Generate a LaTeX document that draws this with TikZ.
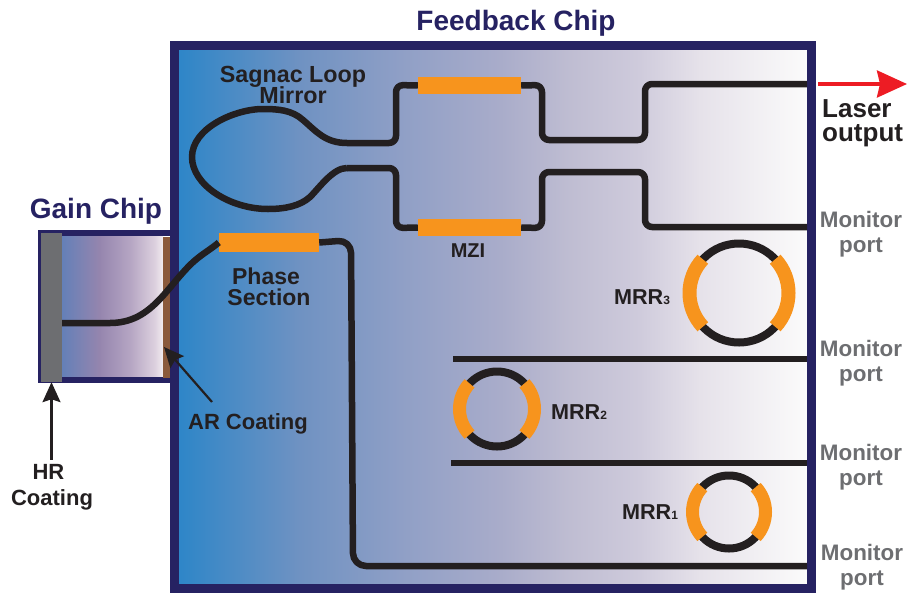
\documentclass[tikz,border=0pt]{standalone}
\usepackage{fontspec}
\setmainfont{Liberation Sans}
\usetikzlibrary{arrows.meta}
\definecolor{navy}{HTML}{262262}
\definecolor{ink}{HTML}{231F20}
\definecolor{greytxt}{HTML}{6D6E71}
\definecolor{amber}{HTML}{F7941D}
\definecolor{brownar}{HTML}{8B5A3C}
\definecolor{redout}{HTML}{ED1C24}
\definecolor{fba}{HTML}{2E86C8}
\definecolor{fbb}{HTML}{6F92C2}
\definecolor{fbc}{HTML}{8F9FC6}
\definecolor{fbd}{HTML}{A9ACCA}
\definecolor{fbe}{HTML}{BFBDD2}
\definecolor{fbf}{HTML}{CFCBDC}
\definecolor{fbg}{HTML}{E6E2EA}
\definecolor{fbh}{HTML}{FBFBFB}
\definecolor{gaa}{HTML}{6480B8}
\definecolor{gab}{HTML}{9585AE}
\definecolor{gac}{HTML}{B5A5C3}
\definecolor{gad}{HTML}{DCD0DE}
\definecolor{gae}{HTML}{F2ECF0}
\pgfdeclarehorizontalshading{fbshade}{100bp}{color(0bp)=(fba); color(25bp)=(fba); color(34.6bp)=(fbb); color(42.6bp)=(fbc); color(50.6bp)=(fbd); color(56.1bp)=(fbe); color(61.7bp)=(fbf); color(66.5bp)=(fbg); color(75bp)=(fbh); color(100bp)=(fbh)}
\pgfdeclarehorizontalshading{gainshade}{100bp}{color(0bp)=(gaa); color(33.6bp)=(gaa); color(49bp)=(gab); color(61.5bp)=(gac); color(71.6bp)=(gad); color(75bp)=(gae); color(100bp)=(gae)}
\tikzset{
	wg/.style={draw=ink, line width=6.5pt, rounded corners=7pt},
	heater/.style={fill=amber, inner sep=0pt, minimum height=#1},
	lbl/.style={text=ink, inner sep=0pt, align=center, font=\bfseries\fontsize{#1}{#1}\selectfont},
	title/.style={text=navy, inner sep=0pt, font=\bfseries\fontsize{28}{28}\selectfont},
	port/.style={text=greytxt, inner sep=0pt, align=center, font=\bfseries\fontsize{22.4}{25}\selectfont},
	callout/.style={draw=ink, line width=2.2pt, -{Stealth[length=20pt,width=18pt,inset=3pt]}}
}
\begin{document}
\begin{tikzpicture}[x=1pt, y=-1pt, line join=round]
	\useasboundingbox (0,0) rectangle (907,592);
	% gain chip
	\shade[shading=gainshade] (41,236) rectangle (163,378);
	\draw[navy, line width=5.5pt, line join=miter] (172,232.8)--(40.5,232.8)--(40.5,380.2)--(172,380.2);
	\node[fill=greytxt, inner sep=0pt, minimum width=21pt, minimum height=149pt] (hrcoat) at (51.5,307.5) {};
	\node[fill=brownar, inner sep=0pt, minimum width=7pt, minimum height=141pt] (arcoat) at (166.5,307.5) {};
	% feedback chip
	\shade[shading=fbshade] (179,50) rectangle (807,584);
	\draw[navy, line width=9.5pt, line join=miter] (174.5,45.5) rectangle (811.5,588.5);
	% heaters
	\node[heater=17pt, minimum width=103pt] (mzitop) at (469.5,85.5) {};
	\node[heater=17pt, minimum width=103pt] (mzibot) at (469.5,227.5) {};
	\node[heater=19pt, minimum width=100pt] (phase) at (269,242.5) {};
	\coordinate (gainin) at (hrcoat.east |- 0,323);
	\coordinate (loopa) at (347,143);
	\coordinate (loopb) at (347,168);
	\coordinate (outa) at (807,84);
	\coordinate (outb) at (807,227);
	\coordinate (outc) at (807,359);
	\coordinate (outd) at (807,463);
	\coordinate (oute) at (807,566);
	\coordinate (busc) at (453,359);
	\coordinate (busd) at (451,463);
	% waveguides
	\draw[wg, sharp corners] (loopa) .. controls (325,143) and (316,131) .. (303,120) .. controls (292,110) and (278,109) .. (263,109) .. controls (235,109) and (192,128) .. (192,157) .. controls (192,185) and (230,209) .. (268,209) .. controls (285,209) and (300,206) .. (310,197) .. controls (320,187) and (333,168) .. (loopb);
	\draw[wg] (loopa)--(396,143)--(396,85)--(mzitop.west);
	\draw[wg] (loopb)--(396,168)--(396,228)--(mzibot.west);
	\draw[wg] (mzitop.east)--(542,85)--(542,140)--(645,140)--(645,84)--(outa);
	\draw[wg] (mzibot.east)--(542,228)--(542,172)--(645,172)--(645,227)--(outb);
	\draw[wg, sharp corners] (gainin)--(110,323) .. controls (150,323) and (165,290) .. (190,265) .. controls (200,255) and (210,250) .. (phase.west);
	\draw[wg, rounded corners=13pt] (phase.east)--(351,240)--(353,566)--(oute);
	\draw[wg] (busc)--(outc);
	\draw[wg] (busd)--(outd);
	% ring resonators
	\foreach \cx/\cy/\rr/\wa/\wb in {739/293/49.5/8/14, 497/409/37.5/8/13, 729/512/36.5/8/13}{
		\draw[ink, line width=\wa pt] (\cx,\cy) circle[radius=\rr];
		\draw[amber, line width=\wb pt] (\cx,\cy)+(-43:\rr) arc[start angle=-43, end angle=43, radius=\rr];
		\draw[amber, line width=\wb pt] (\cx,\cy)+(137:\rr) arc[start angle=137, end angle=223, radius=\rr];
	}
	% labels
	\node[title] (fbtitle) at (516,23) {Feedback Chip};
	\node[title] (gaintitle) at (96,211) {Gain Chip};
	\node[lbl=23.3] (sagnac) at (293,85) {Sagnac Loop\\[-2pt]Mirror};
	\node[lbl=23] (phaselbl) at (269,287) {Phase\kern6pt\\[-2pt]Section};
	\node[lbl=20] (mzilbl) at (468,251) {MZI};
	\node[lbl=22] (arlbl) at (248,423.5) {AR Coating};
	\node[lbl=22] (hrlbl) at (52,487) {HR\kern7pt\\[4pt]Coating};
	\node[lbl=21.6] (mrrc) at (642,297) {MRR{\fontsize{12}{12}\selectfont 3}};
	\node[lbl=21.6] (mrrb) at (579,412) {MRR{\fontsize{12}{12}\selectfont 2}};
	\node[lbl=21.6] (mrra) at (650,512) {MRR{\fontsize{12}{12}\selectfont 1}};
	\node[lbl=26, align=left, anchor=west] (laser) at (822,123) {Laser\\[-2pt]output};
	\node[port] (porta) at (861,234.5) {Monitor\\port};
	\node[port] (portb) at (861,363.5) {Monitor\\port};
	\node[port] (portc) at (861,467.5) {Monitor\\port};
	\node[port] (portd) at (862,567.5) {Monitor\\port};
	% arrows
	\coordinate (arfoot) at (212,402);
	\coordinate (artip) at (164,347);
	\coordinate (laserfoot) at (818,84);
	\coordinate (lasertip) at (907,84);
	\draw[callout, shorten <=4pt] (hrlbl.north -| hrcoat.south)--(hrcoat.south);
	\draw[callout] (arfoot)--(artip);
	\draw[redout, line width=3.5pt, -{Stealth[length=30pt,width=27pt,inset=3pt]}] (laserfoot)--(lasertip);
\end{tikzpicture}
\end{document}
